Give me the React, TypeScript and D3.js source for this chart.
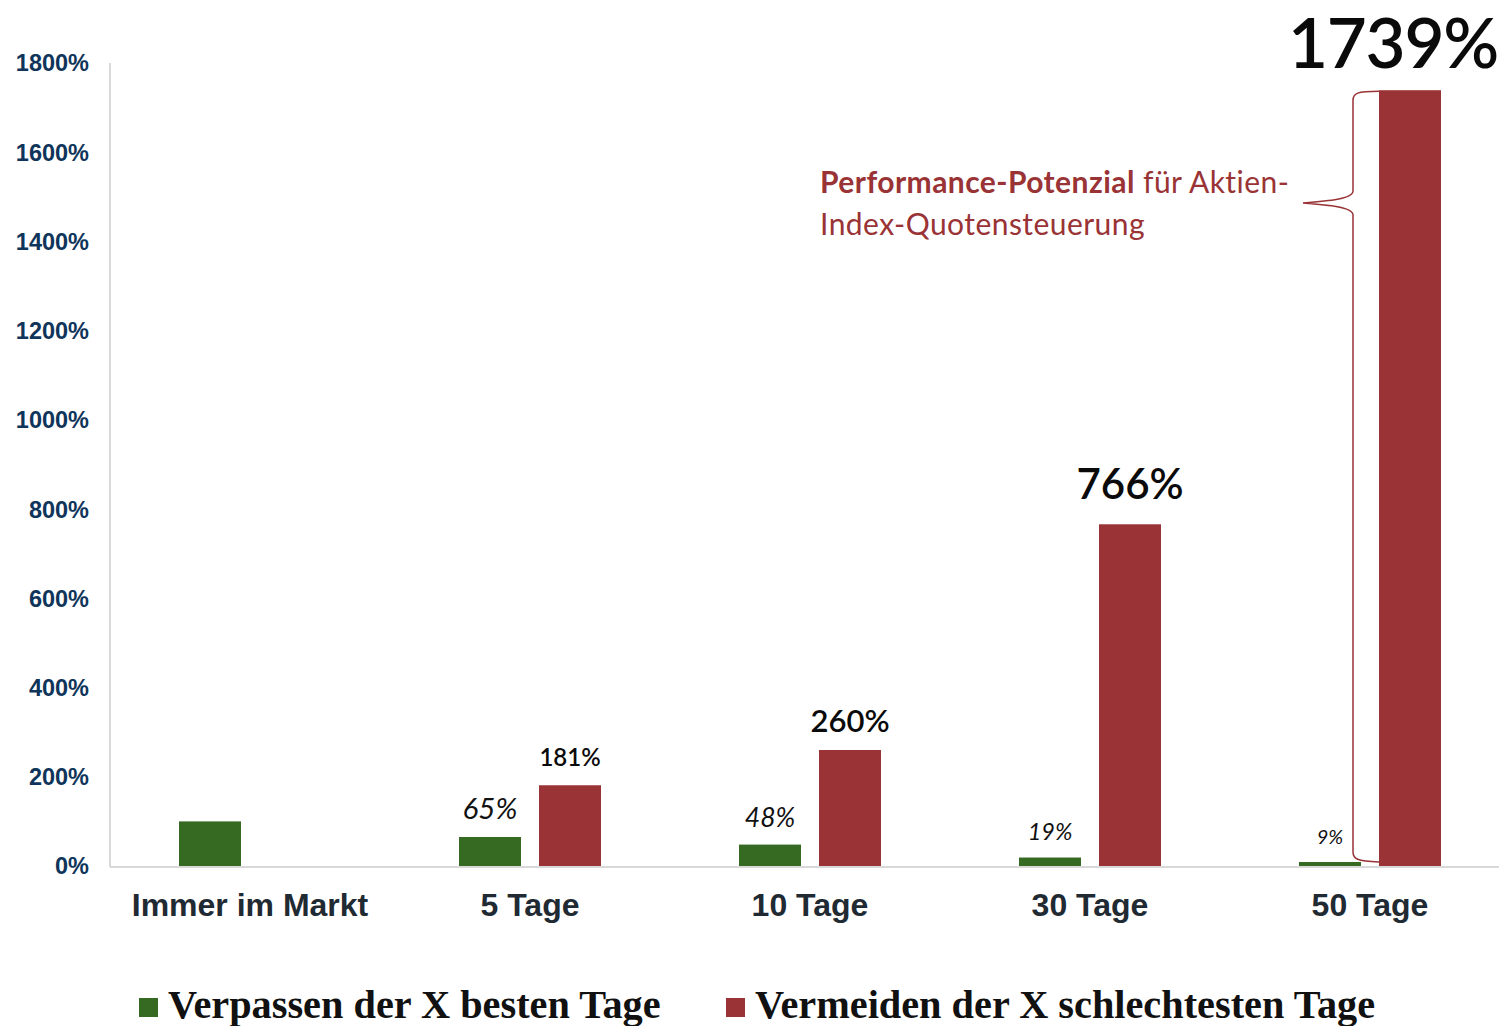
import React from "react";
import * as d3 from "d3";

const categories = ["Immer im Markt", "5 Tage", "10 Tage", "30 Tage", "50 Tage"];
const missedBest: (number | null)[] = [100, 65, 48, 19, 9];
const avoidedWorst: (number | null)[] = [null, 181, 260, 766, 1739];
const yTicks = [0, 200, 400, 600, 800, 1000, 1200, 1400, 1600, 1800];
const seriesNames = ["Verpassen der X besten Tage", "Vermeiden der X schlechtesten Tage"];
const showGreenLabel = [false, true, true, true, true];

// styles
const GREEN = "#366a22";
const RED = "#993335";
const greenLabelSize = [0, 29.5, 26.5, 23.5, 20];
const redLabelSize = [0, 24, 31, 42, 69];
const redLabelGap = [0, 19, 18, 25, 22];
const redLabelDx = [0, 0, 0, 0, -17];
const redLabelSpacing = [0, 0, 0, 0, -1.2];

const W = 1499;
const H = 1026;

export default function App() {
  const x0 = d3.scaleBand<string>().domain(categories).range([110, 1510]).paddingInner(0).paddingOuter(0);
  const x1 = d3.scaleBand<string>().domain(["g", "r"]).range([69, 211]).paddingInner(0.225).paddingOuter(0);
  const y = d3.scaleLinear().domain([0, 1800]).range([866, 63]);

  const labelFont = "Lato, 'Noto Sans', sans-serif";

  // brace for last red bar
  const lastIdx = categories.length - 1;
  const braceTop = y(avoidedWorst[lastIdx] as number);
  const braceBottom = y(0) - 4;
  const bx = 1353;
  const tipX = 1303;
  const tipY = 203;
  const braceRight = (x0(categories[lastIdx]) as number) + (x1("r") as number);
  const bracePath = [
    `M${braceRight},${braceTop + 1}`,
    `C${bx + 4},${braceTop + 1} ${bx},${braceTop + 3} ${bx},${braceTop + 10}`,
    `L${bx},${tipY - 12}`,
    `C${bx},${tipY - 4} ${tipX + 25},${tipY - 2} ${tipX},${tipY}`,
    `C${tipX + 25},${tipY + 2} ${bx},${tipY + 4} ${bx},${tipY + 12}`,
    `L${bx},${braceBottom - 10}`,
    `C${bx},${braceBottom - 3} ${bx + 4},${braceBottom - 1} ${braceRight},${braceBottom}`,
  ].join(" ");

  return (
    <svg width={W} height={H} style={{ position: "absolute", left: 0, top: 0, display: "block", background: "#fff" }}>
      {/* y tick labels */}
      {yTicks.map((t) => (
        <text
          key={t}
          x={89}
          y={y(t)}
          dy="0.36em"
          textAnchor="end"
          fontFamily="'Liberation Sans', Arial, sans-serif"
          fontWeight="bold"
          fontSize={23.5}
          fill="#10355a"
        >
          {t}%
        </text>
      ))}

      {/* bars */}
      {categories.map((c, i) => {
        const gx = x0(c) as number;
        const g = missedBest[i];
        const r = avoidedWorst[i];
        return (
          <g key={c}>
            {g !== null && (
              <rect x={gx + (x1("g") as number)} y={y(g)} width={x1.bandwidth()} height={y(0) - y(g)} fill={GREEN} />
            )}
            {r !== null && (
              <rect x={gx + (x1("r") as number)} y={y(r)} width={x1.bandwidth()} height={y(0) - y(r)} fill={RED} />
            )}
          </g>
        );
      })}

      {/* axes lines */}
      <line x1={110} x2={110} y1={63} y2={867} stroke="#d9d9d9" strokeWidth={2} />
      <line x1={110} x2={W} y1={867} y2={867} stroke="#d9d9d9" strokeWidth={2} />

      {/* value labels */}
      {categories.map((c, i) => {
        const gx = x0(c) as number;
        const g = missedBest[i];
        const r = avoidedWorst[i];
        return (
          <g key={"l" + c}>
            {g !== null && showGreenLabel[i] && (
              <text
                x={gx + (x1("g") as number) + x1.bandwidth() / 2}
                y={y(g) - 18}
                textAnchor="middle"
                fontFamily={labelFont}
                fontStyle="italic"
                fontWeight={400}
                fontSize={greenLabelSize[i]}
                fill="#111"
              >
                {g}%
              </text>
            )}
            {r !== null && (
              <text
                x={gx + (x1("r") as number) + x1.bandwidth() / 2 + redLabelDx[i]}
                y={y(r) - redLabelGap[i]}
                textAnchor="middle"
                fontFamily={labelFont}
                fontWeight={600}
                fontSize={redLabelSize[i]}
                letterSpacing={redLabelSpacing[i]}
                fill="#0a0a0a"
              >
                {r}%
              </text>
            )}
          </g>
        );
      })}

      {/* category labels */}
      {categories.map((c) => (
        <text
          key={"c" + c}
          x={(x0(c) as number) + x0.bandwidth() / 2}
          y={916}
          textAnchor="middle"
          fontFamily="'Liberation Sans', Arial, sans-serif"
          fontWeight="bold"
          fontSize={32}
          fill="#1f2a33"
        >
          {c}
        </text>
      ))}

      {/* brace annotation */}
      <path d={bracePath} fill="none" stroke={RED} strokeWidth={1.5} />
      <text x={820} y={193} fontFamily={labelFont} fontSize={30} fill={RED} letterSpacing={0.45}>
        <tspan fontWeight="bold">Performance-Potenzial</tspan>
        <tspan> für Aktien-</tspan>
      </text>
      <text x={820} y={235} fontFamily={labelFont} fontSize={30} fill={RED} letterSpacing={0.45}>
        Index-Quotensteuerung
      </text>

      {/* legend */}
      <rect x={139} y={998} width={19} height={19} fill={GREEN} />
      <text x={168} y={1018} fontFamily="'Liberation Serif', 'Times New Roman', serif" fontWeight="bold" fontSize={40.3} fill="#111">
        {seriesNames[0]}
      </text>
      <rect x={726} y={998} width={19} height={19} fill={RED} />
      <text x={755} y={1018} fontFamily="'Liberation Serif', 'Times New Roman', serif" fontWeight="bold" fontSize={40.3} fill="#111">
        {seriesNames[1]}
      </text>
    </svg>
  );
}
